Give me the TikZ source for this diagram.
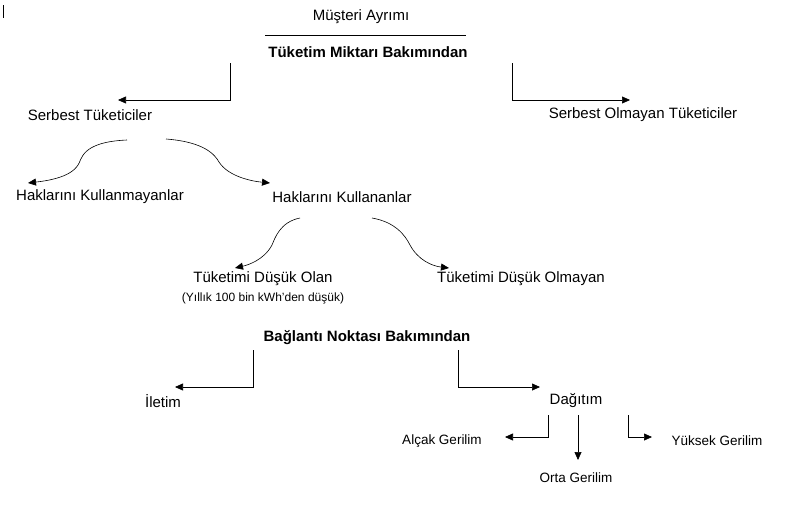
\documentclass[tikz,border=0pt]{standalone}
\usepackage{fontspec}
\setmainfont{Liberation Sans}
\usetikzlibrary{arrows.meta}
\tikzset{
  lbl/.style={inner sep=0pt, font=\fontsize{15}{17}\selectfont},
  head/.style={lbl, font=\fontsize{15}{17}\selectfont\bfseries},
  small/.style={inner sep=0pt, font=\fontsize{12}{14}\selectfont},
  mid/.style={inner sep=0pt, font=\fontsize{13.5}{15}\selectfont},
  arr/.style={-{Triangle[length=8pt,width=7pt]}, line width=0.6pt},
}
\begin{document}
\begin{tikzpicture}[x=1pt,y=-1pt]
\useasboundingbox (0,0) rectangle (795,506);
\draw[line width=0.6pt] (3,5) -- (3,18);
\node (title) at (361,17) [lbl] {Müşteri Ayrımı};
\draw[line width=0.6pt] (265,35) -- (466,35);
\node (tuk) at (368,52) [head] {Tüketim Miktarı Bakımından};
\node (st) at (90,115) [lbl] {Serbest Tüketiciler};
\node (sot) at (643,115) [lbl] {Serbest Olmayan Tüketiciler};
	\node (hkm) at (100,197) [lbl] {Haklarını Kullanmayanlar};
	\node (hk) at (342,197) [lbl] {Haklarını Kullananlar};
		\node (tdo) at (263,279) [lbl] {Tüketimi Düşük Olan};
		\node (not) at (263,298) [small] {(Yıllık 100 bin kWh’den düşük)};
		\node (tdy) at (521,279) [lbl] {Tüketimi Düşük Olmayan};
\node (bag) at (367,338) [head] {Bağlantı Noktası Bakımından};
\node (il) at (163,401) [lbl] {İletim};
\node (dag) at (576,401) [lbl] {Dağıtım};
	\node (alc) at (442,441) [mid] {Alçak Gerilim};
	\node (ort) at (576,478) [mid] {Orta Gerilim};
	\node (yuk) at (717,441) [mid] {Yüksek Gerilim};
% elbows
\coordinate (t1) at (230,63); \coordinate (t2) at (512,63);
\draw[arr] (t1) |- (118,100);
\draw[arr] (t2) |- (630,100);
\coordinate (b1) at (253,350); \coordinate (b2) at (458,350);
\draw[arr] (b1) |- (175,387);
\draw[arr] (b2) |- (540,387);
\coordinate (d1) at (548,415); \coordinate (d2) at (578,415); \coordinate (d3) at (628,415);
\draw[arr] (d1) |- (505,437);
\draw[arr] (d2) -- (578,460);
\draw[arr] (d3) |- (652,437);
% curves
\coordinate (c1) at (127,140); \coordinate (c2) at (166,139);
\coordinate (c3) at (300,218); \coordinate (c4) at (372,218);
\draw[arr] (c1) .. controls (80,142) and (82,160) .. (78,165) .. controls (70,178) and (45,181) .. (28,183);
\draw[arr] (c2) .. controls (205,142) and (215,155) .. (219,162) .. controls (228,176) and (250,181) .. (270,183);
\draw[arr] (c3) .. controls (280,222) and (275,238) .. (272,245) .. controls (264,260) and (248,265) .. (235,268);
\draw[arr] (c4) .. controls (395,222) and (405,235) .. (410,245) .. controls (418,260) and (432,266) .. (449,268);
\end{tikzpicture}
\end{document}
